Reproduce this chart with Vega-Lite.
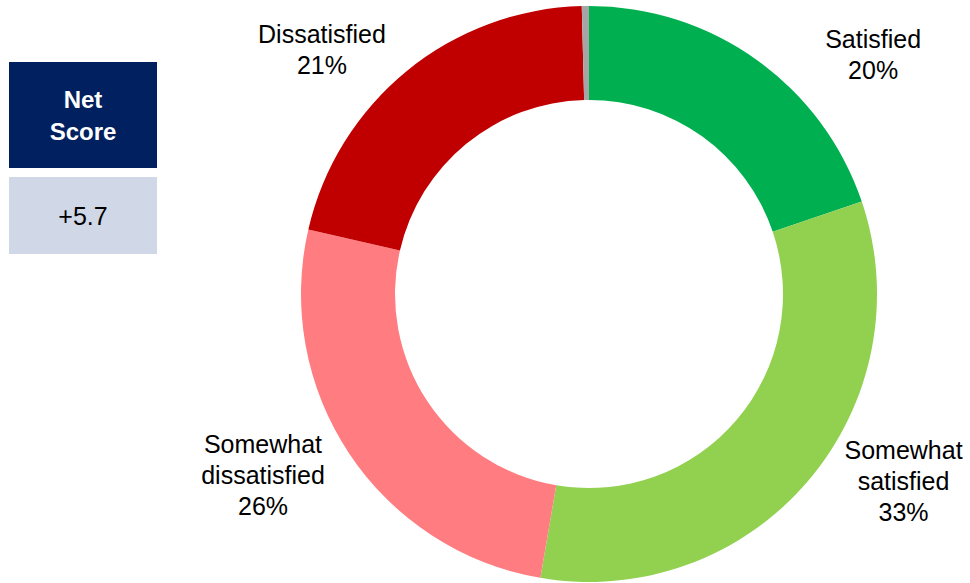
{
  "$schema": "https://vega.github.io/schema/vega-lite/v6.json",
  "padding": {"left": 9, "top": 4, "right": 0, "bottom": 0},
  "background": "white",
  "bounds": "flush",
  "config": {"view": {"stroke": null}, "font": "Liberation Sans"},
  "spacing": 290,
  "hconcat": [
    {
      "spacing": 9,
      "bounds": "flush",
      "vconcat": [
        {
          "width": 148,
          "height": 49,
          "data": {"values": [{"t": ""}]},
          "mark": {"type": "text"},
          "encoding": {"text": {"field": "t", "type": "nominal"}}
        },
        {
          "width": 148,
          "height": 106,
          "data": {"values": [{"title": "Net\nScore"}]},
          "layer": [
            {"mark": {"type": "rect", "color": "#002060"}, "encoding": {}},
            {
              "mark": {"type": "text", "lineBreak": "\n", "fontWeight": "bold", "fontSize": 24, "color": "white", "lineHeight": 32, "baseline": "middle", "align": "center", "dy": -14},
              "encoding": {"text": {"field": "title", "type": "nominal"}}
            }
          ]
        },
        {
          "width": 148,
          "height": 77,
          "data": {"values": [{"score": "+5.7"}]},
          "layer": [
            {"mark": {"type": "rect", "color": "#D0D7E6"}, "encoding": {}},
            {
              "mark": {"type": "text", "fontSize": 25, "color": "black", "baseline": "middle", "align": "center", "dy": 1},
              "encoding": {"text": {"field": "score", "type": "nominal"}}
            }
          ]
        }
      ]
    },
    {
      "width": 580,
      "height": 580,
      "data": {
        "values": [
          {"cat": "Satisfied", "value": 19.8, "order": 1, "label": "Satisfied\n20%"},
          {"cat": "Somewhat satisfied", "value": 32.9, "order": 2, "label": "Somewhat\nsatisfied\n33%"},
          {"cat": "Somewhat dissatisfied", "value": 25.9, "order": 3, "label": "Somewhat\ndissatisfied\n26%"},
          {"cat": "Dissatisfied", "value": 21.0, "order": 4, "label": "Dissatisfied\n21%"},
          {"cat": "Don't know", "value": 0.4, "order": 5, "label": ""}
        ]
      },
      "transform": [
        {"stack": "value", "groupby": [], "sort": [{"field": "order", "order": "ascending"}], "as": ["v0", "v1"]},
        {"calculate": "(datum.v0 + datum.v1) / 2", "as": "mid"}
      ],
      "layer": [
        {
          "mark": {"type": "arc", "outerRadius": 288, "innerRadius": 194},
          "encoding": {
            "theta": {"field": "v0", "type": "quantitative", "scale": {"domain": [0, 100]}},
            "theta2": {"field": "v1"},
            "color": {
              "field": "cat",
              "type": "nominal",
              "scale": {
                "domain": ["Satisfied", "Somewhat satisfied", "Somewhat dissatisfied", "Dissatisfied", "Don't know"],
                "range": ["#00B050", "#92D050", "#FF7C80", "#C00000", "#A6A6A6"]
              },
              "legend": null
            }
          }
        },
        {
          "transform": [{"filter": "datum.cat === 'Satisfied'"}],
          "mark": {"type": "text", "radius": 340, "dx": 86, "dy": 30, "fontSize": 25, "lineBreak": "\n", "lineHeight": 31, "align": "center", "baseline": "alphabetic", "color": "black"},
          "encoding": {"theta": {"field": "mid", "type": "quantitative"}, "text": {"field": "label", "type": "nominal"}}
        },
        {
          "transform": [{"filter": "datum.cat === 'Somewhat satisfied'"}],
          "mark": {"type": "text", "radius": 340, "dx": 56, "dy": -56, "fontSize": 25, "lineBreak": "\n", "lineHeight": 31, "align": "center", "baseline": "alphabetic", "color": "black"},
          "encoding": {"theta": {"field": "mid", "type": "quantitative"}, "text": {"field": "label", "type": "nominal"}}
        },
        {
          "transform": [{"filter": "datum.cat === 'Somewhat dissatisfied'"}],
          "mark": {"type": "text", "radius": 340, "dx": -43, "dy": -29, "fontSize": 25, "lineBreak": "\n", "lineHeight": 31, "align": "center", "baseline": "alphabetic", "color": "black"},
          "encoding": {"theta": {"field": "mid", "type": "quantitative"}, "text": {"field": "label", "type": "nominal"}}
        },
        {
          "transform": [{"filter": "datum.cat === 'Dissatisfied'"}],
          "mark": {"type": "text", "radius": 340, "dx": -52, "dy": 12, "fontSize": 25, "lineBreak": "\n", "lineHeight": 31, "align": "center", "baseline": "alphabetic", "color": "black"},
          "encoding": {"theta": {"field": "mid", "type": "quantitative"}, "text": {"field": "label", "type": "nominal"}}
        }
      ]
    }
  ]
}
